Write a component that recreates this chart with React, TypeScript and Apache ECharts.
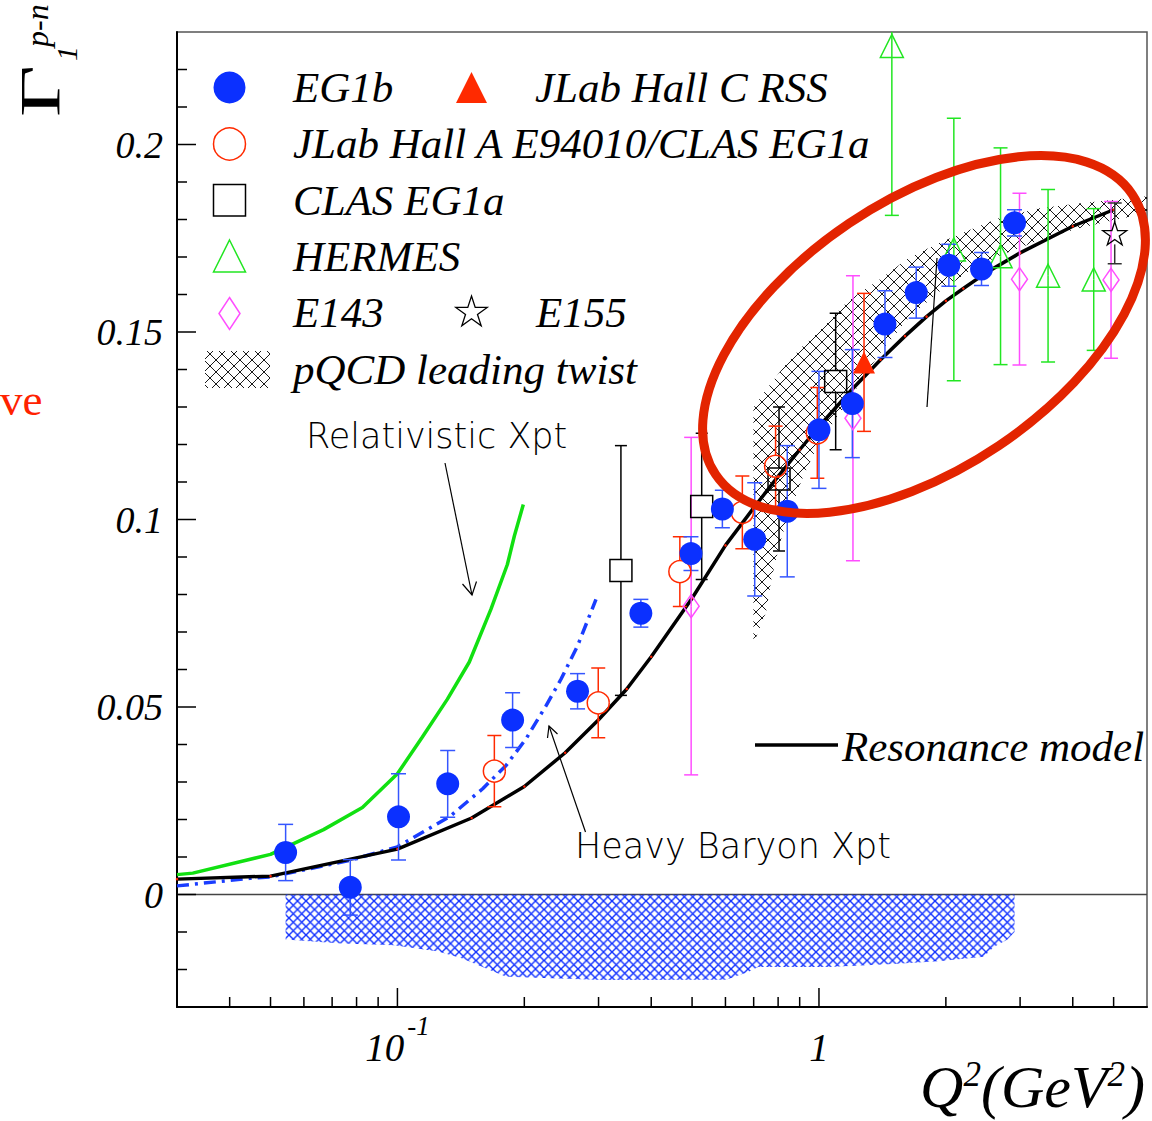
import React, { useEffect, useRef } from 'react';
import * as echarts from 'echarts';

// ---------- axis ranges ----------
const X_MIN = 0.03;
const X_MAX = 6;
const Y_MIN = -0.03;
const Y_MAX = 0.23;

const xMajorTicks = [0.1, 1];
const xMinorTicks = [0.04, 0.05, 0.06, 0.07, 0.08, 0.09, 0.2, 0.3, 0.4, 0.5, 0.6, 0.7, 0.8, 0.9, 2, 3, 4, 5];
const yMajorTicks = [0, 0.05, 0.1, 0.15, 0.2];
const yMinorTicks = [-0.02, -0.01, 0.01, 0.02, 0.03, 0.04, 0.06, 0.07, 0.08, 0.09, 0.11, 0.12, 0.13, 0.14, 0.16, 0.17, 0.18, 0.19, 0.21, 0.22];

// ---------- data ----------
const eg1bQ2 = [0.0543, 0.0773, 0.1006, 0.1316, 0.1876, 0.2675, 0.378, 0.497, 0.59, 0.704, 0.841, 1.0, 1.2, 1.434, 1.701, 2.033, 2.43, 2.91];
const eg1bG1 = [0.0112, 0.0019, 0.0207, 0.0295, 0.0465, 0.0542, 0.075, 0.0909, 0.1028, 0.0947, 0.1022, 0.1239, 0.1309, 0.1521, 0.1605, 0.1678, 0.1668, 0.1791];
const eg1bErr = [0.0075, 0.0074, 0.0115, 0.0089, 0.0073, 0.0047, 0.0037, 0.0045, 0.005, 0.0151, 0.0175, 0.0156, 0.0144, 0.0089, 0.0068, 0.0056, 0.0044, 0.0035];

const hallAQ2 = [0.1698, 0.2995, 0.4677, 0.658, 0.789, 0.991];
const hallAG1 = [0.0329, 0.0511, 0.0861, 0.1019, 0.1142, 0.1231];
const hallAErr = [0.0095, 0.0093, 0.0093, 0.0097, 0.0107, 0.0121];

const clasQ2 = [0.339, 0.527, 0.804, 1.0955];
const clasG1 = [0.0864, 0.1035, 0.1108, 0.1368];
const clasErr = [0.0333, 0.0195, 0.0192, 0.0182];

const rssQ2 = [1.279];
const rssG1 = [0.1419];
const rssErr = [0.0184];

const hermesQ2 = [1.489, 2.089, 2.696, 3.495, 4.485];
const hermesG1 = [0.2263, 0.172, 0.1702, 0.165, 0.164];
const hermesErr = [0.0452, 0.035, 0.0289, 0.023, 0.0189];

const e143Q2 = [0.4975, 1.204, 2.99, 4.93];
const e143G1 = [0.0769, 0.127, 0.1641, 0.1639];
const e143Err = [0.045, 0.038, 0.0229, 0.0209];

const e155Q2 = [5.03];
const e155G1 = [0.1763];
const e155Err = [0.0081];

// Resonance model (black curve)
const resQ2 = [0.03, 0.05, 0.1, 0.15, 0.2, 0.25, 0.3, 0.35, 0.4, 0.5, 0.6, 0.7, 0.8, 0.9, 1.0, 1.2, 1.4, 1.6, 1.8, 2.0, 2.2, 2.5, 3.0, 4.0, 5.0];
const resG1 = [0.0041, 0.0049, 0.0121, 0.0204, 0.0288, 0.0378, 0.0466, 0.0548, 0.0634, 0.079, 0.0931, 0.1031, 0.1115, 0.1186, 0.1248, 0.1348, 0.1426, 0.1489, 0.1541, 0.1583, 0.1616, 0.1659, 0.1711, 0.1782, 0.1826];

// Relativistic chiPT (green)
const relQ2 = [0.03, 0.0327, 0.05, 0.0668, 0.0826, 0.1, 0.1146, 0.1314, 0.1481, 0.1667, 0.1823, 0.1894, 0.1989];
const relG1 = [0.0053, 0.0057, 0.0107, 0.0173, 0.0232, 0.0322, 0.042, 0.0521, 0.062, 0.0761, 0.088, 0.0956, 0.104];

// Heavy Baryon chiPT (blue dash-dot)
const hbQ2 = [0.03, 0.0446, 0.05, 0.077, 0.1, 0.1328, 0.1593, 0.181, 0.2018, 0.2251, 0.2443, 0.2675, 0.2958];
const hbG1 = [0.0023, 0.0043, 0.0047, 0.0091, 0.0127, 0.0207, 0.0282, 0.0344, 0.0415, 0.0503, 0.0574, 0.0663, 0.0787];

// pQCD leading twist band
const pqcdQ2 = [0.699, 0.749, 0.771, 0.804, 0.84, 0.911, 0.989, 1.177, 1.385, 1.63, 1.92, 2.26, 2.66, 3.33, 4.13, 5.13, 6.0];
const pqcdHi = [0.1298, 0.1346, 0.1364, 0.1391, 0.1418, 0.146, 0.1497, 0.1585, 0.1638, 0.1697, 0.1737, 0.1771, 0.1803, 0.183, 0.1843, 0.1854, 0.1862];
const pqcdLo = [0.0668, 0.0753, 0.084, 0.0928, 0.1, 0.1106, 0.1194, 0.1319, 0.1439, 0.1537, 0.1606, 0.166, 0.1702, 0.1745, 0.1777, 0.1801, 0.1817];

// EG1b systematic uncertainty band (below zero)
const sysQ2 = [0.0543, 0.072, 0.098, 0.125, 0.142, 0.181, 0.306, 0.602, 0.682, 0.717, 1.05, 1.5, 1.92, 2.46, 2.6, 2.8, 2.91];
const sysLow = [-0.012, -0.013, -0.0135, -0.0152, -0.017, -0.0219, -0.0228, -0.0227, -0.0206, -0.0193, -0.0193, -0.0185, -0.0178, -0.0166, -0.014, -0.012, -0.01];

// ---------- styles ----------
const BLUE = '#0b30ff';
const BLUE_ERR = '#3556ff';
const RED = '#ff2a00';
const GREEN = '#22e622';
const MAGENTA = '#ff4dff';
const SERIF = '"Liberation Serif", "Times New Roman", serif';
const SANS = '"DejaVu Sans", sans-serif';
const STAR_PATH = 'path://M50,0L61.2,34.5L97.6,34.5L68.2,55.9L79.4,90.5L50,69.1L20.6,90.5L31.8,55.9L2.4,34.5L38.8,34.5Z';
const STAR_UNIT = [[0, -1], [0.2245, -0.309], [0.951, -0.309], [0.363, 0.118], [0.588, 0.809], [0, 0.382], [-0.588, 0.809], [-0.363, 0.118], [-0.951, -0.309], [-0.2245, -0.309]];

function hatchPattern(color: string, size: number, lw: number) {
  const svg = `<svg xmlns="http://www.w3.org/2000/svg" width="${size}" height="${size}"><path d="M0 0L${size} ${size}M${size} 0L0 ${size}" stroke="${color}" stroke-width="${lw}" fill="none"/></svg>`;
  return {
    image: 'data:image/svg+xml;charset=utf-8,' + encodeURIComponent(svg),
    repeat: 'repeat',
    imageWidth: size,
    imageHeight: size,
  };
}

function errSeries(name: string, xs: number[], ys: number[], es: number[], color: string, gap: number, cap: number, z: number) {
  return {
    type: 'custom',
    name,
    z,
    silent: true,
    clip: true,
    data: xs.map((x, i) => [x, ys[i], es[i]]),
    encode: { x: 0, y: 1 },
    renderItem: (params: any, api: any) => {
      const x = api.value(0);
      const y = api.value(1);
      const e = api.value(2);
      const c = api.coord([x, y]);
      const t = api.coord([x, y + e]);
      const b = api.coord([x, y - e]);
      const st = { stroke: color, lineWidth: 1.5 };
      const ch: any[] = [];
      if (c[1] - gap > t[1]) ch.push({ type: 'line', shape: { x1: c[0], y1: t[1], x2: c[0], y2: c[1] - gap }, style: st });
      if (c[1] + gap < b[1]) ch.push({ type: 'line', shape: { x1: c[0], y1: c[1] + gap, x2: c[0], y2: b[1] }, style: st });
      ch.push({ type: 'line', shape: { x1: c[0] - cap / 2, y1: t[1], x2: c[0] + cap / 2, y2: t[1] }, style: st });
      ch.push({ type: 'line', shape: { x1: c[0] - cap / 2, y1: b[1], x2: c[0] + cap / 2, y2: b[1] }, style: st });
      return { type: 'group', children: ch };
    },
  };
}

function markerSeries(name: string, xs: number[], ys: number[], symbol: string, size: any, itemStyle: any, z: number) {
  return {
    type: 'scatter',
    name,
    z,
    silent: true,
    symbol,
    symbolSize: size,
    itemStyle: { opacity: 1, ...itemStyle },
    data: xs.map((x, i) => [x, ys[i]]),
  };
}

function curveSeries(name: string, xs: number[], ys: number[], lineStyle: any, z: number, dots?: boolean) {
  return {
    type: 'line',
    name,
    z,
    silent: true,
    smooth: false,
    showSymbol: !!dots,
    symbol: 'circle',
    symbolSize: 2.5,
    itemStyle: { color: '#ff2000' },
    lineStyle,
    data: xs.map((x, i) => [x, ys[i]]),
  };
}

export default function App() {
  const ref = useRef<HTMLDivElement>(null);

  useEffect(() => {
    if (!ref.current) return;
    const chart = echarts.init(ref.current, null, { renderer: 'svg' });

    const blueHatch = hatchPattern('#1030ff', 8.5, 1.4);
    const blackHatch = hatchPattern('#000000', 12, 0.9);

    const legendText = (text: string, x: number, y: number) => ({
      type: 'text',
      x,
      y,
      z: 50,
      style: { text, fill: '#000', fontFamily: SERIF, fontStyle: 'italic', fontSize: 43, align: 'left', verticalAlign: 'middle' },
    });
    const noteText = (text: string, x: number, y: number) => ({
      type: 'text',
      x,
      y,
      z: 50,
      style: { text, fill: '#000', fontFamily: SANS, fontWeight: 200, fontSize: 35, align: 'left', verticalAlign: 'middle' },
    });

    const option: any = {
      animation: false,
      backgroundColor: '#ffffff',
      textStyle: { fontFamily: SERIF },
      grid: {
        left: 177,
        right: 5,
        top: 32,
        bottom: 114,
        show: true,
        borderColor: '#555',
        borderWidth: 1.5,
        backgroundColor: 'rgba(0,0,0,0)',
        outerBoundsMode: 'none',
      },
      xAxis: {
        type: 'log',
        logBase: 10,
        min: X_MIN,
        max: X_MAX,
        axisLine: { show: true, onZero: false, lineStyle: { color: '#000', width: 2 } },
        axisTick: { show: false },
        minorTick: { show: false },
        splitLine: { show: false },
        axisLabel: {
          margin: 5,
          formatter: (v: number) => {
            if (Math.abs(v - 0.1) < 1e-9) return '{m|10}{s|-1}';
            if (Math.abs(v - 1) < 1e-9) return '{m|1}';
            return '';
          },
          rich: {
            m: { fontFamily: SERIF, fontStyle: 'italic', fontSize: 39, color: '#000', lineHeight: 71, verticalAlign: 'middle' },
            s: { fontFamily: SERIF, fontStyle: 'italic', fontSize: 27, color: '#000', lineHeight: 27, verticalAlign: 'top', padding: [0, 0, 0, 3] },
          },
        },
      },
      yAxis: {
        type: 'value',
        min: Y_MIN,
        max: Y_MAX,
        interval: 0.01,
        axisLine: { show: true, onZero: false, lineStyle: { color: '#000', width: 2 } },
        axisTick: { show: false },
        splitLine: { show: false },
        axisLabel: {
          margin: 14,
          color: '#000',
          fontFamily: SERIF,
          fontStyle: 'italic',
          fontSize: 38,
          formatter: (v: number) => {
            const k = Math.round(v * 100);
            if (k % 5 !== 0 || k < 0) return '';
            return String(Math.round(v * 100) / 100);
          },
        },
      },
      series: [
        // zero line
        curveSeries('zero', [X_MIN, X_MAX], [0, 0], { color: '#444', width: 1.5 }, 1),
        // systematic band
        {
          type: 'line',
          name: 'EG1b systematic',
          z: 2,
          silent: true,
          showSymbol: false,
          lineStyle: { width: 0, opacity: 0 },
          areaStyle: { color: blueHatch, opacity: 1, origin: 0 },
          data: sysQ2.map((x, i) => [x, sysLow[i]]),
        },
        // pQCD band
        {
          type: 'custom',
          name: 'pQCD leading twist',
          z: 3,
          silent: true,
          clip: true,
          data: pqcdQ2.map((x, i) => [x, pqcdLo[i], pqcdHi[i]]),
          encode: { x: 0, y: [1, 2] },
          renderItem: (params: any, api: any) => {
            if (params.dataIndex !== 0) return null;
            const pts: number[][] = [];
            for (let i = 0; i < pqcdQ2.length; i++) pts.push(api.coord([pqcdQ2[i], pqcdHi[i]]));
            for (let i = pqcdQ2.length - 1; i >= 0; i--) pts.push(api.coord([pqcdQ2[i], pqcdLo[i]]));
            return { type: 'polygon', shape: { points: pts }, style: { fill: blackHatch, stroke: 'none' } };
          },
        },
        // theory curves
        curveSeries('Relativistic Xpt', relQ2, relG1, { color: '#11e011', width: 3.5 }, 4),
        curveSeries('Heavy Baryon Xpt', hbQ2, hbG1, { color: '#1a3dff', width: 3.5, type: [12, 6, 3, 6] }, 4),
        curveSeries('Resonance model', resQ2, resG1, { color: '#000', width: 3.5 }, 5, true),
        // error bars
        errSeries('E143 err', e143Q2, e143G1, e143Err, MAGENTA, 0, 14, 6),
        errSeries('HERMES err', hermesQ2, hermesG1, hermesErr, GREEN, 0, 14, 6),
        errSeries('CLAS EG1a err', clasQ2, clasG1, clasErr, '#000', 11, 12, 6),
        errSeries('Hall A err', hallAQ2, hallAG1, hallAErr, RED, 11, 14, 6),
        errSeries('RSS err', rssQ2, rssG1, rssErr, RED, 0, 14, 6),
        errSeries('E155 err', e155Q2, e155G1, e155Err, '#333', 11, 14, 6),
        errSeries('EG1b err', eg1bQ2, eg1bG1, eg1bErr, BLUE_ERR, 0, 15, 6),
        // markers
        markerSeries('E143', e143Q2, e143G1, 'diamond', [16, 23], { color: 'rgba(255,255,255,0)', borderColor: MAGENTA, borderWidth: 1.5 }, 7),
        markerSeries('HERMES', hermesQ2, hermesG1, 'triangle', [23, 23], { color: 'rgba(255,255,255,0)', borderColor: GREEN, borderWidth: 1.5 }, 7),
        markerSeries('CLAS EG1a', clasQ2, clasG1, 'rect', [22, 22], { color: 'rgba(255,255,255,0)', borderColor: '#000', borderWidth: 1.5 }, 7),
        markerSeries('JLab Hall A E94010/CLAS EG1a', hallAQ2, hallAG1, 'circle', 22, { color: 'rgba(255,255,255,0)', borderColor: RED, borderWidth: 1.5 }, 7),
        markerSeries('JLab Hall C RSS', rssQ2, rssG1, 'triangle', [22, 22], { color: RED }, 7),
        markerSeries('E155', e155Q2, e155G1, STAR_PATH, [24, 23], { color: 'rgba(255,255,255,0)', borderColor: '#000', borderWidth: 1.3 }, 7),
        markerSeries('EG1b', eg1bQ2, eg1bG1, 'circle', 23, { color: BLUE }, 8),
        // ticks
        {
          type: 'custom',
          name: 'x ticks',
          z: 20,
          silent: true,
          data: [...xMajorTicks, ...xMinorTicks].map((v) => [v, Y_MIN]),
          encode: { x: 0, y: 1 },
          renderItem: (params: any, api: any) => {
            const v = api.value(0);
            const p = api.coord([v, Y_MIN]);
            const len = xMajorTicks.indexOf(v) >= 0 ? 19 : 10;
            return { type: 'line', shape: { x1: p[0], y1: p[1], x2: p[0], y2: p[1] - len }, style: { stroke: '#000', lineWidth: 1.5 } };
          },
        },
        {
          type: 'custom',
          name: 'y ticks',
          z: 20,
          silent: true,
          data: [...yMajorTicks, ...yMinorTicks].map((v) => [X_MIN, v]),
          encode: { x: 0, y: 1 },
          renderItem: (params: any, api: any) => {
            const v = api.value(1);
            const p = api.coord([X_MIN, v]);
            const len = yMajorTicks.indexOf(v) >= 0 ? 19 : 10;
            return { type: 'line', shape: { x1: p[0], y1: p[1], x2: p[0] + len, y2: p[1] }, style: { stroke: '#000', lineWidth: 1.5 } };
          },
        },
      ],
      graphic: [
        // y-axis title
        { type: 'text', x: 40, y: 117, rotation: Math.PI / 2, scaleX: 1.55, z: 50, style: { text: 'Γ', fill: '#000', fontFamily: SERIF, fontSize: 58, align: 'left', verticalAlign: 'middle' } },
        { type: 'text', x: 66, y: 61, rotation: Math.PI / 2, z: 50, style: { text: '1', fill: '#000', fontFamily: SERIF, fontStyle: 'italic', fontSize: 30, align: 'left', verticalAlign: 'middle' } },
        { type: 'text', x: 37, y: 47, rotation: Math.PI / 2, z: 50, style: { text: 'p-n', fill: '#000', fontFamily: SERIF, fontStyle: 'italic', fontSize: 32, align: 'left', verticalAlign: 'middle' } },
        // cropped red word at left
        { type: 'text', x: 0, y: 400, z: 50, style: { text: 've', fill: '#ff2200', fontFamily: SERIF, fontSize: 45, align: 'left', verticalAlign: 'middle' } },
        // x-axis title
        {
          type: 'text', x: 1145, y: 1117, z: 50,
          style: {
            text: '{q|Q}{s|2}{q|(GeV}{s|2}{q|)}',
            align: 'right',
            verticalAlign: 'bottom',
            rich: {
              q: { fontFamily: SERIF, fontStyle: 'italic', fontSize: 60, fill: '#000', lineHeight: 60, verticalAlign: 'middle' },
              s: { fontFamily: SERIF, fontStyle: 'italic', fontSize: 35, fill: '#000', lineHeight: 35, verticalAlign: 'top' },
            },
          },
        },
        // legend markers
        { type: 'circle', z: 50, shape: { cx: 229.5, cy: 87.5, r: 16 }, style: { fill: BLUE } },
        { type: 'polygon', z: 50, shape: { points: [[471.5, 72], [487, 103], [456, 103]] }, style: { fill: RED } },
        { type: 'circle', z: 50, shape: { cx: 229.5, cy: 144, r: 16 }, style: { fill: 'none', stroke: RED, lineWidth: 1.5 } },
        { type: 'rect', z: 50, shape: { x: 213.5, y: 184.5, width: 32, height: 31.5 }, style: { fill: 'none', stroke: '#000', lineWidth: 1.5 } },
        { type: 'polygon', z: 50, shape: { points: [[229.5, 240], [245.5, 272], [213.5, 272]] }, style: { fill: 'none', stroke: GREEN, lineWidth: 1.5 } },
        { type: 'polygon', z: 50, shape: { points: [[229.5, 297.5], [240, 313.5], [229.5, 329.5], [219, 313.5]] }, style: { fill: 'none', stroke: MAGENTA, lineWidth: 1.5 } },
        { type: 'polygon', z: 50, shape: { points: STAR_UNIT.map((p) => [471.5 + p[0] * 16.5, 312.5 + p[1] * 16.5]) }, style: { fill: 'none', stroke: '#000', lineWidth: 1.3 } },
        { type: 'rect', z: 50, shape: { x: 205, y: 351, width: 65, height: 37 }, style: { fill: blackHatch, stroke: 'none' } },
        legendText('EG1b', 293, 87),
        legendText('JLab Hall C RSS', 535, 87),
        legendText('JLab Hall A E94010/CLAS EG1a', 293, 143.5),
        legendText('CLAS EG1a', 293, 200),
        legendText('HERMES', 293, 256.5),
        legendText('E143', 293, 312),
        legendText('E155', 536, 312),
        legendText('pQCD leading twist', 293, 369),
        // resonance model legend
        { type: 'line', z: 50, shape: { x1: 755, y1: 745, x2: 838, y2: 745 }, style: { stroke: '#000', lineWidth: 3.5 } },
        legendText('Resonance model', 842, 746),
        // annotations
        noteText('Relativistic Xpt', 306, 436),
        { type: 'line', z: 50, shape: { x1: 445, y1: 463, x2: 472, y2: 595 }, style: { stroke: '#000', lineWidth: 1.2 } },
        { type: 'polyline', z: 50, shape: { points: [[462.5, 584], [472, 595], [476.5, 581.5]] }, style: { stroke: '#000', lineWidth: 1.2, fill: 'none' } },
        noteText('Heavy Baryon Xpt', 575, 846),
        { type: 'line', z: 50, shape: { x1: 585.5, y1: 832, x2: 549, y2: 726 }, style: { stroke: '#000', lineWidth: 1.2 } },
        { type: 'polyline', z: 50, shape: { points: [[547.5, 738], [549, 726], [557.5, 734]] }, style: { stroke: '#000', lineWidth: 1.2, fill: 'none' } },
        { type: 'line', z: 50, shape: { x1: 927, y1: 407, x2: 937, y2: 258 }, style: { stroke: '#000', lineWidth: 1.2 } },
        // red ellipse annotation
        { type: 'ellipse', z: 60, x: 924, y: 334.5, rotation: 0.5917, shape: { cx: 0, cy: 0, rx: 251, ry: 134 }, style: { fill: 'none', stroke: '#e32400', lineWidth: 9 } },
      ],
    };

    chart.setOption(option);
    return () => {
      chart.dispose();
    };
  }, []);

  return <div ref={ref} style={{ position: 'absolute', left: 0, top: 0, width: 1152, height: 1121, background: '#fff' }} />;
}
